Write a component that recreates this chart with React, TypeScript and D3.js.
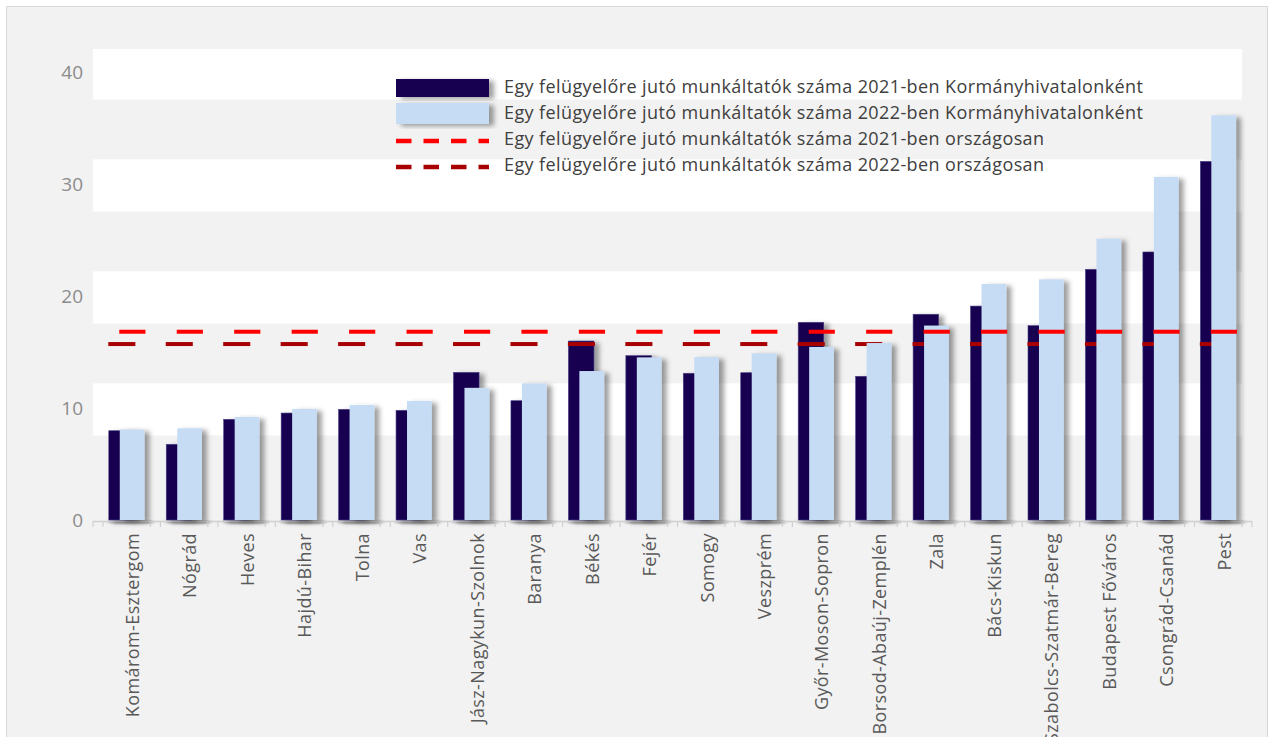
import React from "react";
import * as d3 from "d3";

const categories = [
  "Komárom-Esztergom", "Nógrád", "Heves", "Hajdú-Bihar", "Tolna", "Vas",
  "Jász-Nagykun-Szolnok", "Baranya", "Békés", "Fejér", "Somogy", "Veszprém",
  "Győr-Moson-Sopron", "Borsod-Abaúj-Zemplén", "Zala", "Bács-Kiskun",
  "Szabolcs-Szatmár-Bereg", "Budapest Főváros", "Csongrád-Csanád", "Pest",
];
const values2021 = [7.97, 6.76, 8.99, 9.55, 9.88, 9.79, 13.18, 10.65, 15.98, 14.67, 13.1, 13.15, 17.65, 12.83, 18.37, 19.1, 17.35, 22.38, 23.93, 32.02];
const values2022 = [8.08, 8.19, 9.2, 9.91, 10.27, 10.63, 11.8, 12.2, 13.3, 14.52, 14.55, 14.88, 15.45, 15.8, 17.36, 21.07, 21.49, 25.12, 30.63, 36.13];
const national2021 = 16.81;
const national2022 = 15.71;
const yTicks = [0, 10, 20, 30, 40];
const legendLabels = [
  "Egy felügyelőre jutó munkáltatók száma 2021-ben Kormányhivatalonként",
  "Egy felügyelőre jutó munkáltatók száma 2022-ben Kormányhivatalonként",
  "Egy felügyelőre jutó munkáltatók száma 2021-ben országosan",
  "Egy felügyelőre jutó munkáltatók száma 2022-ben országosan",
];

const W = 1271, H = 737;
const FONT = "'Open Sans', 'Noto Sans', sans-serif";
const DARK = "#12004f";
const LIGHT = "#c6dcf5";
const RED = "#ff0000";
const DARKRED = "#a80000";

export default function App() {
  const x = d3.scaleBand<string>().domain(categories).range([93, 1242]).padding(0);
  const y = d3.scaleLinear().domain([0, 40]).range([520, 72]);
  const bw = x.bandwidth();
  const darkOff = 0.275 * bw, darkW = 0.445 * bw;
  const lightOff = 0.466 * bw, lightW = 0.43 * bw;
  const plotTop = 49;

  const bands = [0, 1, 2, 3].map((k) => {
    const top = Math.max(plotTop, y(12.2 + 10 * k));
    const bot = y(7.55 + 10 * k);
    return { top, bot };
  });

  const boundaries = d3.range(categories.length + 1).map((i) => 93 + i * bw);

  return (
    <svg width={W} height={H} style={{ position: "absolute", left: 0, top: 0, background: "#fff" }}>
      <defs>
        <filter id="sh" x="-30%" y="-10%" width="180%" height="130%">
          <feDropShadow dx="5" dy="2" stdDeviation="2.5" floodColor="#000" floodOpacity="0.38" />
        </filter>
        <filter id="blur" x="-50%" y="-200%" width="200%" height="500%">
          <feGaussianBlur stdDeviation="1.2" />
        </filter>
      </defs>
      <rect x={6.5} y={6.5} width={1261} height={760} fill="#f2f2f2" stroke="#d9d9d9" strokeWidth={1} />
      {bands.map((b, i) => (
        <rect key={i} x={93} y={b.top} width={1242 - 93} height={b.bot - b.top} fill="#ffffff" />
      ))}

      {yTicks.map((t) => (
        <text key={t} x={83} y={y(t)} dy="0.35em" textAnchor="end" fontFamily={FONT} fontSize={19} fill="#8c8c8c">
          {t}
        </text>
      ))}

      {categories.map((c) => (
        <ellipse key={c} cx={(x(c) as number) + darkOff + 22} cy={522} rx={24} ry={1.6} fill="#8a8a8a" filter="url(#blur)" />
      ))}

      <line x1={93} x2={1252} y1={521.5} y2={521.5} stroke="#d0d0d0" strokeWidth={1.5} />
      {boundaries.map((b, i) => (
        <g key={i}>
          <line x1={b} x2={b} y1={521.5} y2={527} stroke="#d0d0d0" strokeWidth={1.2} />
          <line x1={b + 10} x2={b + 10} y1={521.5} y2={527} stroke="#d0d0d0" strokeWidth={1.2} />
        </g>
      ))}

      <g filter="url(#sh)">
        {categories.map((c, i) => (
          <rect key={c} x={(x(c) as number) + darkOff} y={y(values2021[i])} width={darkW} height={y(0) - y(values2021[i])} fill={DARK} stroke="#4b3f85" strokeWidth={0.6} />
        ))}
      </g>
      {categories.map((c) => (
        <line key={c} x1={(x(c) as number) + darkOff - 0.5} x2={(x(c) as number) + darkOff + darkW + 1} y1={y(national2022)} y2={y(national2022)} stroke={DARKRED} strokeWidth={4} />
      ))}
      <g filter="url(#sh)">
        {categories.map((c, i) => (
          <rect key={c} x={(x(c) as number) + lightOff} y={y(values2022[i])} width={lightW} height={y(0) - y(values2022[i])} fill={LIGHT} />
        ))}
      </g>
      {categories.map((c) => (
        <line key={c} x1={(x(c) as number) + lightOff - 0.5} x2={(x(c) as number) + lightOff + lightW + 1} y1={y(national2021)} y2={y(national2021)} stroke={RED} strokeWidth={4} />
      ))}

      {categories.map((c) => {
        const cx = (x(c) as number) + bw / 2 + 11;
        return (
          <text key={c} transform={`translate(${cx},533) rotate(-90)`} textAnchor="end" dy="0.35em" fontFamily={FONT} fontSize={18} letterSpacing={0.4} fill="#595959">
            {c}
          </text>
        );
      })}

      <g>
        <rect x={396} y={79} width={93} height={18} fill={DARK} filter="url(#sh)" />
        <rect x={396} y={103} width={93} height={21} fill={LIGHT} filter="url(#sh)" />
        <line x1={396} x2={489} y1={141} y2={141} stroke={RED} strokeWidth={4.3} strokeDasharray="15.5 12" />
        <line x1={396} x2={489} y1={167} y2={167} stroke={DARKRED} strokeWidth={4.3} strokeDasharray="15.5 12" />
        {legendLabels.map((l, i) => (
          <text key={l} x={504} y={87 + i * 26} dy="0.35em" fontFamily={FONT} fontSize={18} letterSpacing={0.4} fill="#404040">
            {l}
          </text>
        ))}
      </g>
    </svg>
  );
}
